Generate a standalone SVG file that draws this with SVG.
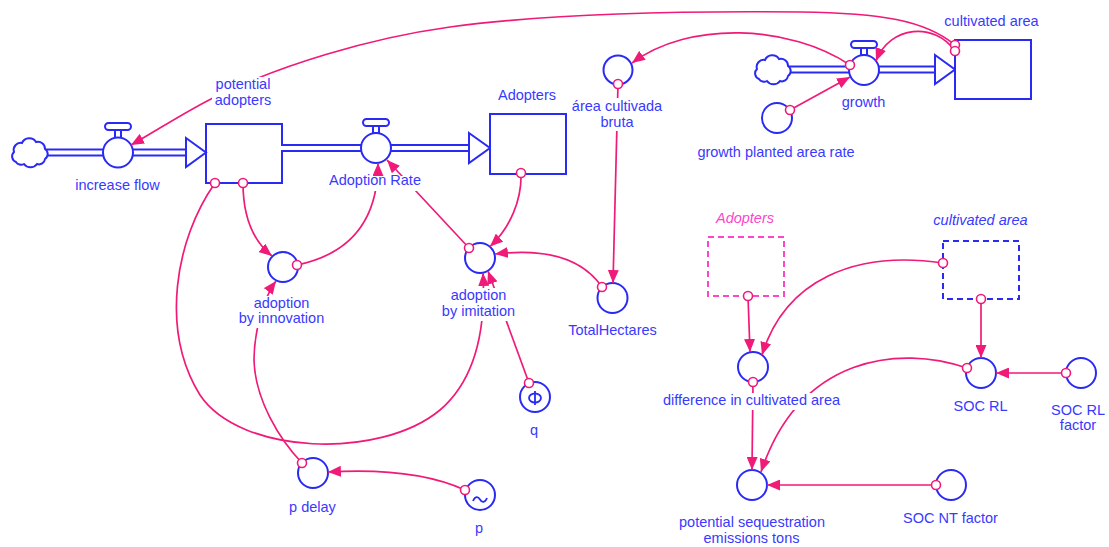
<svg xmlns="http://www.w3.org/2000/svg" width="1109" height="547" viewBox="0 0 1109 547">
<style>
.txt{font-family:"Liberation Sans",Arial,sans-serif;font-size:14.5px;fill:#3939ff;text-anchor:middle}
.it{font-style:italic}
.gp{fill:#ff44cc}
.aux{fill:#fff;stroke:#2a2af5;stroke-width:2}
.stock{fill:#fff;stroke:#2a2af5;stroke-width:2}
.ghostp{fill:#fff;stroke:#ff44cc;stroke-width:2;stroke-dasharray:6 4}
.ghostb{fill:#fff;stroke:#2a2af5;stroke-width:2;stroke-dasharray:6 4}
.pipeo{fill:none;stroke:#2a2af5;stroke-width:8}
.pipei{fill:none;stroke:#fff;stroke-width:4}
.head{fill:#fff;stroke:#2a2af5;stroke-width:2}
.cloud{fill:#fff;stroke:#2a2af5;stroke-width:2}
.icon{fill:none;stroke:#2a2af5;stroke-width:1.8}
.link{fill:none;stroke:#f01a78;stroke-width:1.7;marker-end:url(#ah)}
.org{fill:#fff;stroke:#f01a78;stroke-width:1.6}
</style>
<defs>
<marker id="ah" viewBox="0 0 13 11" refX="13" refY="5.5" markerWidth="13" markerHeight="11" markerUnits="userSpaceOnUse" orient="auto">
<path d="M0,0 L13,5.5 L0,11 Z" fill="#f01a78"/>
</marker>
<path id="cloudp" d="M6,24 A6,6 0 0 1 4,14 A7,7 0 0 1 12,5 A8,8 0 0 1 26,4 A7,7 0 0 1 35,11 A6,6 0 0 1 35,21 A6,6 0 0 1 27,26 A8,8 0 0 1 14,26 A6,6 0 0 1 6,24 Z"/>
<mask id="lm" maskUnits="userSpaceOnUse" x="0" y="0" width="1109" height="547">
<rect x="0" y="0" width="1109" height="547" fill="#fff"/>
<rect x="212" y="77" width="62" height="33" fill="#000"/>
<rect x="326" y="176" width="99" height="15" fill="#000"/>
<rect x="566" y="98" width="102" height="33" fill="#000"/>
<rect x="234" y="296" width="96" height="32" fill="#000"/>
<rect x="438" y="288" width="82" height="33" fill="#000"/>
<rect x="656" y="393" width="192" height="17" fill="#000"/>
</mask>
</defs>

<g id="potential_adopters">
<rect class="stock" x="206" y="124" width="76" height="59"/>
<text class="txt" x="243" y="89">potential</text>
<text class="txt" x="243" y="105">adopters</text>
</g>

<g id="increase_flow">
<line class="pipeo" x1="44" y1="152.5" x2="188" y2="152.5"/>
<line class="pipei" x1="44" y1="152.5" x2="188" y2="152.5"/>
<use href="#cloudp" class="cloud" transform="translate(10,138)"/>
<polygon class="head" points="186,138 206,152.5 186,167"/>
<rect class="aux" x="115" y="130" width="6" height="8"/>
<rect class="aux" x="105" y="123" width="26" height="7" rx="3.5"/>
<circle class="aux" cx="118" cy="152.5" r="15"/>
<text class="txt" x="117.5" y="190">increase flow</text>
</g>

<g id="adoption_rate">
<line class="pipeo" x1="283" y1="148" x2="471" y2="148"/>
<line class="pipei" x1="281" y1="148" x2="471" y2="148"/>
<polygon class="head" points="469,133 490,148 469,163"/>
<rect class="aux" x="373" y="126" width="6" height="7"/>
<rect class="aux" x="363" y="119" width="26" height="7" rx="3.5"/>
<circle class="aux" cx="376" cy="148" r="15"/>
<text class="txt" x="375" y="185">Adoption Rate</text>
</g>

<g id="adopters">
<rect class="stock" x="490" y="114" width="76" height="60"/>
<text class="txt" x="527" y="100">Adopters</text>
</g>

<g id="growth">
<line class="pipeo" x1="788" y1="69.5" x2="937" y2="69.5"/>
<line class="pipei" x1="788" y1="69.5" x2="937" y2="69.5"/>
<use href="#cloudp" class="cloud" transform="translate(753,55)"/>
<polygon class="head" points="935,55 955,69.5 935,84"/>
<rect class="aux" x="861" y="48" width="6" height="7"/>
<rect class="aux" x="851" y="41" width="26" height="7" rx="3.5"/>
<circle class="aux" cx="864" cy="70" r="15"/>
<text class="txt" x="863.5" y="107">growth</text>
</g>

<g id="cultivated_area">
<rect class="stock" x="955" y="40" width="76" height="59"/>
<text class="txt" x="991.5" y="26">cultivated area</text>
</g>

<g id="growth_planted_area_rate">
<circle class="aux" cx="777" cy="118" r="15"/>
<text class="txt" x="776" y="157">growth planted area rate</text>
</g>

<g id="area_cultivada_bruta">
<circle class="aux" cx="618" cy="70" r="14.5"/>
<text class="txt" x="617" y="111">área cultivada</text>
<text class="txt" x="617" y="127">bruta</text>
</g>

<g id="adoption_by_innovation">
<circle class="aux" cx="283" cy="267" r="15"/>
<text class="txt" x="281.5" y="308">adoption</text>
<text class="txt" x="281.5" y="323">by innovation</text>
</g>

<g id="adoption_by_imitation">
<circle class="aux" cx="480" cy="258" r="15"/>
<text class="txt" x="478.5" y="300">adoption</text>
<text class="txt" x="478.5" y="316">by imitation</text>
</g>

<g id="total_hectares">
<circle class="aux" cx="612.5" cy="298" r="15"/>
<text class="txt" x="612.5" y="335">TotalHectares</text>
</g>

<g id="q">
<circle class="aux" cx="535" cy="397" r="15"/>
<ellipse class="icon" cx="535" cy="398" rx="6" ry="4.5" stroke-width="2"/>
<line class="icon" x1="535" y1="391" x2="535" y2="405" stroke-width="2"/>
<text class="txt" x="534" y="435">q</text>
</g>

<g id="p_delay">
<circle class="aux" cx="313" cy="473" r="15"/>
<text class="txt" x="312.5" y="512">p delay</text>
</g>

<g id="p">
<circle class="aux" cx="480" cy="495" r="15"/>
<path class="icon" d="M473,501 C475,496 478,496 480,499.5 C482,503 485,503 487,498"/>
<text class="txt" x="479" y="533">p</text>
</g>

<g id="adopters_ghost">
<rect class="ghostp" x="708" y="237" width="76" height="59"/>
<text class="txt it gp" x="745" y="223">Adopters</text>
</g>

<g id="cultivated_area_ghost">
<rect class="ghostb" x="943" y="241" width="76" height="58"/>
<text class="txt it" x="980.5" y="225">cultivated area</text>
</g>

<g id="difference_in_cultivated_area">
<circle class="aux" cx="753" cy="367" r="15"/>
<text class="txt" x="751.5" y="405">difference in cultivated area</text>
</g>

<g id="soc_rl">
<circle class="aux" cx="981" cy="373" r="15"/>
<text class="txt" x="980.5" y="411">SOC RL</text>
</g>

<g id="soc_rl_factor">
<circle class="aux" cx="1081" cy="373" r="15"/>
<text class="txt" x="1078" y="415">SOC RL</text>
<text class="txt" x="1078" y="430">factor</text>
</g>

<g id="potential_sequestration_emissions_tons">
<circle class="aux" cx="752" cy="485" r="15"/>
<text class="txt" x="752" y="527">potential sequestration</text>
<text class="txt" x="751.5" y="543">emissions tons</text>
</g>

<g id="soc_nt_factor">
<circle class="aux" cx="951" cy="485" r="15"/>
<text class="txt" x="950.5" y="523">SOC NT factor</text>
</g>

<g id="connectors" mask="url(#lm)">
<path class="link" d="M955,45 C925,20 880,13 800,12 C700,11 560,12 450,27 C370,38 280,65 213,98 C185,112 156,131 131,145"/>
<path class="link" d="M955,51 C935,22 890,25 876,61"/>
<path class="link" d="M850,65 C790,25 690,20 632,63"/>
<path class="link" d="M790,110 L850,77"/>
<path class="link" d="M618,84 L613,283"/>
<path class="link" d="M602,287 C582,258 545,248 495,254"/>
<path class="link" d="M521,173 C522,200 510,228 490,246.5"/>
<path class="link" d="M243,183 C243,215 252,240 272,256"/>
<path class="link" d="M297,265 C345,255 378,225 378,163"/>
<path class="link" d="M469,248 L387,160"/>
<path class="link" d="M215,183 C175,240 160,330 200,395 C240,455 380,460 440,410 C475,380 486,330 483,273"/>
<path class="link" d="M529,383 L488,271"/>
<path class="link" d="M302,463 C280,440 255,400 254,360 C254,335 262,300 276,281"/>
<path class="link" d="M465,490 C430,474 380,469 328,472"/>
<path class="link" d="M748,296 L750,352"/>
<path class="link" d="M943,263 C855,250 785,280 762,355"/>
<path class="link" d="M981,299 L981,358"/>
<path class="link" d="M1066,373 L996,373"/>
<path class="link" d="M967,368 C900,345 800,355 761,472"/>
<path class="link" d="M753,382 L752,470"/>
<path class="link" d="M936,485 L767,485"/>
<circle class="org" cx="955" cy="45" r="4.5"/>
<circle class="org" cx="955" cy="51" r="4.5"/>
<circle class="org" cx="850" cy="65" r="4.5"/>
<circle class="org" cx="790" cy="110" r="4.5"/>
<circle class="org" cx="618" cy="84" r="4.5"/>
<circle class="org" cx="602" cy="287" r="4.5"/>
<circle class="org" cx="521" cy="173" r="4.5"/>
<circle class="org" cx="243" cy="183" r="4.5"/>
<circle class="org" cx="215" cy="183" r="4.5"/>
<circle class="org" cx="297" cy="265" r="4.5"/>
<circle class="org" cx="469" cy="248" r="4.5"/>
<circle class="org" cx="529" cy="383" r="4.5"/>
<circle class="org" cx="302" cy="463" r="4.5"/>
<circle class="org" cx="465" cy="490" r="4.5"/>
<circle class="org" cx="748" cy="296" r="4.5"/>
<circle class="org" cx="943" cy="263" r="4.5"/>
<circle class="org" cx="981" cy="299" r="4.5"/>
<circle class="org" cx="1066" cy="373" r="4.5"/>
<circle class="org" cx="967" cy="368" r="4.5"/>
<circle class="org" cx="753" cy="382" r="4.5"/>
<circle class="org" cx="936" cy="485" r="4.5"/>
</g>
</svg>
